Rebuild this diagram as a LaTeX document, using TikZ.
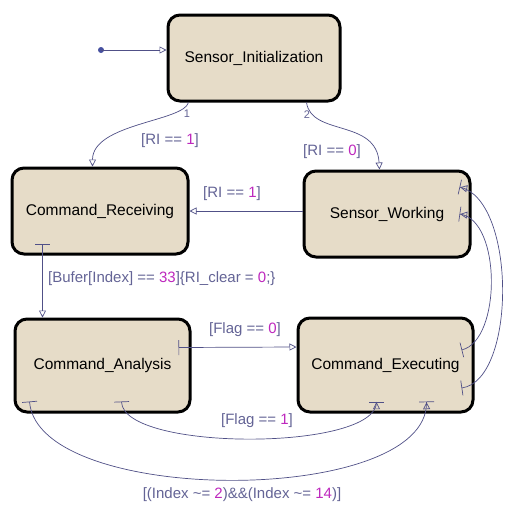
\documentclass[tikz,border=0pt]{standalone}
\usepackage{fontspec}
\setmainfont{Liberation Sans}
\usepackage{xcolor}
\usepackage{tikz}
\usetikzlibrary{arrows.meta}
\usetikzlibrary{positioning}

\definecolor{stfill}{RGB}{230,220,200}
\definecolor{trcol}{RGB}{80,80,135}
\definecolor{lblcol}{RGB}{100,100,150}
\definecolor{numcol}{RGB}{190,40,190}
\definecolor{dotcol}{RGB}{70,80,160}
\newcommand{\numv}[1]{\textcolor{numcol}{#1}}

\tikzset{
  state/.style={draw=black, line width=3pt, rounded corners=12pt, fill=stfill, inner sep=0pt, font=\fontsize{15.5}{18}\selectfont},
  trans/.style={draw=trcol, line width=0.7pt, -{Triangle[open,length=7pt,width=7pt]}},
  barstart/.style={{Bar[width=15pt]}-{Triangle[open,length=7pt,width=7pt]}},
  barboth/.style={{Bar[width=15pt]}-{Triangle[open,length=7pt,width=7pt] Bar[width=15pt]}},
  lbl/.style={text=lblcol, font=\fontsize{15}{18}\selectfont, inner sep=0pt},
  idx/.style={text=lblcol, font=\fontsize{11}{13}\selectfont, inner sep=0pt},
}

\begin{document}
\begin{tikzpicture}[x=1pt,y=-1pt]
    \useasboundingbox[fill=white] (0,0) rectangle (512,515);
    % states
    \node[state, minimum width=172pt, minimum height=86pt] (init) at (254,58) {Sensor\_Initialization};
    \node[state, minimum width=176pt, minimum height=86pt] (recv) at (100,211) {Command\_Receiving};
    \node[state, minimum width=166pt, minimum height=86pt] (work) at (387,214) {Sensor\_Working};
    \node[state, minimum width=175pt, minimum height=93pt] (anal) at (102.5,365.5) {Command\_Analysis};
    \node[state, minimum width=175pt, minimum height=94pt] (exec) at (385.5,365) {Command\_Executing};
    % default transition
    \coordinate (start) at (101,50);
    \fill[dotcol] (start) circle (3);
    \draw[trans] (start) -- (init.west |- start);
    % transitions out of the initialization
    \draw[trans] ([xshift=22pt]init.south west) .. controls +(-5,19) and +(0,-43) .. ([xshift=82pt]recv.north west);
    \draw[trans] ([xshift=-35pt]init.south east) .. controls +(5,34) and +(-3,-51) .. ([xshift=77pt]work.north west);
    \draw[trans] (work.west |- recv.east) -- (recv.east);
    % command chain
    \draw[trans, barstart] ([xshift=32pt,yshift=12pt]recv.south west) -- ([xshift=29pt]anal.north west);
    \draw[trans, barstart] ([xshift=-13pt,yshift=18pt]anal.east) -- ([yshift=18pt]exec.west);
    \draw[trans, barboth] ([xshift=108pt,yshift=12pt]anal.south west) .. controls +(2,50) and +(0,50) .. ([xshift=80pt,yshift=12pt]exec.south west);
    \draw[trans, barboth] ([xshift=16pt,yshift=12pt]anal.south west) .. controls +(9,105) and +(2,105) .. ([xshift=130pt,yshift=12pt]exec.south west);
    % back to the sensor
    \draw[trans, barboth] ([xshift=-13pt,yshift=-23pt]exec.east) .. controls +(55,-8) and +(57,13) .. ([xshift=-12pt,yshift=27pt]work.east);
    \draw[trans, barboth] ([xshift=-13pt,yshift=15pt]exec.east) .. controls +(40,-10) and +(42,6) .. ([xshift=-12pt]work.east);
    % labels
    \node[idx] (n1) at (187,114) {1};
    \node[idx] (n2) at (307,115) {2};
    \node[lbl] (g1) at (170,141) {[RI == \numv{1}]};
    \node[lbl] (g2) at (332,152) {[RI == \numv{0}]};
    \node[lbl] (g3) at (232,194) {[RI == \numv{1}]};
    \node[lbl, anchor=west] (g4) at (48,279) {[Bufer[Index] == \numv{33}]\{RI\_clear = \numv{0};\}};
    \node[lbl] (g5) at (245,330) {[Flag == \numv{0}]};
    \node[lbl] (g6) at (257,421) {[Flag == \numv{1}]};
    \node[lbl] (g7) at (242,495) {[(Index \textasciitilde= \numv{2})\&\&(Index \textasciitilde= \numv{14})]};
\end{tikzpicture}
\end{document}
